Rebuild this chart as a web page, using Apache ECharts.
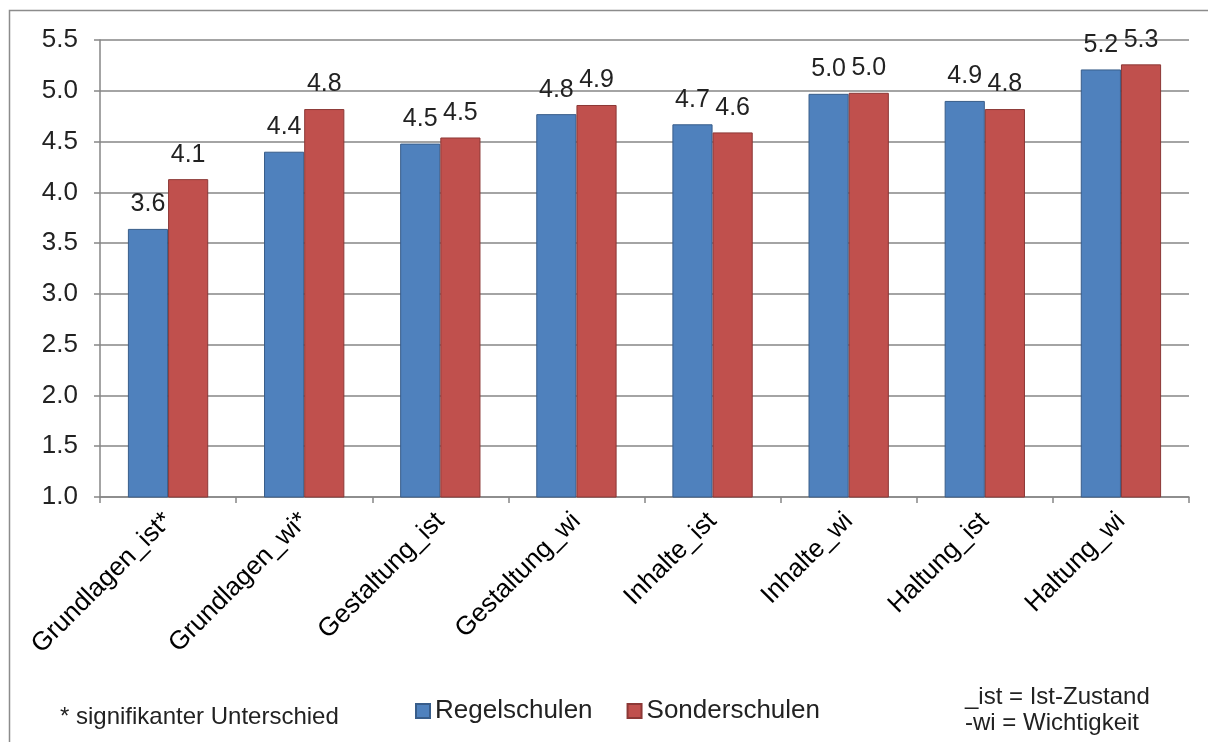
<!DOCTYPE html>
<html>
<head>
<meta charset="utf-8">
<script src="https://cdn.jsdelivr.net/npm/echarts@6/dist/echarts.min.js"></script>
<style>
  html, body { margin: 0; padding: 0; background: #fff; }
  #chart { width: 1208px; height: 742px; }
</style>
</head>
<body>
<div id="chart"></div>
<script>
// categories and values
const categories = ['Grundlagen_ist*', 'Grundlagen_wi*', 'Gestaltung_ist', 'Gestaltung_wi',
  'Inhalte_ist', 'Inhalte_wi', 'Haltung_ist', 'Haltung_wi']
const regelschulen = [3.64, 4.40, 4.48, 4.77, 4.67, 4.97, 4.90, 5.21]
const sonderschulen = [4.13, 4.82, 4.54, 4.86, 4.59, 4.98, 4.82, 5.26]
const seriesNames = ['Regelschulen', 'Sonderschulen']

const font = 'Liberation Sans, Arial, sans-serif'
const axisGray = '#868686'

const chart = echarts.init(document.getElementById('chart'))

const barLabel = {
  show: true,
  position: 'top',
  distance: 12,
  fontSize: 25,
  fontFamily: font,
  color: '#222',
  formatter: p => p.value.toFixed(1)
}

chart.setOption({
  animation: false,
  textStyle: { fontFamily: font },
  grid: { left: 100, right: 19, top: 40, bottom: 245 },
  legend: {
    data: seriesNames,
    icon: 'rect',
    left: 410,
    top: 693,
    itemWidth: 14,
    itemHeight: 14,
    itemGap: 34,
    textStyle: { fontSize: 26, color: '#222', fontFamily: font }
  },
  xAxis: {
    type: 'category',
    data: categories,
    axisLine: { lineStyle: { color: axisGray, width: 1.5 } },
    axisTick: { show: true, length: 6, lineStyle: { color: axisGray, width: 1.5 } },
    axisLabel: { rotate: 45, fontSize: 26, color: '#000', margin: 20, interval: 0 }
  },
  yAxis: {
    type: 'value',
    min: 1,
    max: 5.5,
    interval: 0.5,
    axisLine: { show: true, lineStyle: { color: axisGray, width: 1.5 } },
    axisTick: { show: true, length: 6, lineStyle: { color: axisGray, width: 1.5 } },
    splitLine: { lineStyle: { color: axisGray, width: 1.5 } },
    axisLabel: { fontSize: 26, color: '#222', margin: 22, formatter: v => v.toFixed(1) }
  },
  series: [
    {
      name: seriesNames[0],
      type: 'bar',
      data: regelschulen,
      barGap: '0%',
      barCategoryGap: '41%',
      itemStyle: { color: '#4F81BD', borderColor: '#385D8A', borderWidth: 1 },
      label: barLabel
    },
    {
      name: seriesNames[1],
      type: 'bar',
      data: sonderschulen,
      itemStyle: { color: '#C0504D', borderColor: '#8C3836', borderWidth: 1 },
      label: barLabel
    }
  ],
  graphic: [
    {
      type: 'rect',
      shape: { x: 9.5, y: 10.5, width: 1220, height: 760 },
      style: { fill: 'none', stroke: '#8c8c8c', lineWidth: 1.5 },
      silent: true
    },
    {
      type: 'text',
      left: 60,
      top: 705,
      style: { text: '* signifikanter Unterschied', fill: '#222', font: '24px ' + font }
    },
    {
      type: 'text',
      left: 965,
      top: 684,
      style: { text: '_ist = Ist-Zustand\n-wi = Wichtigkeit', lineHeight: 26, fill: '#222', font: '24px ' + font }
    }
  ]
})
</script>
</body>
</html>
